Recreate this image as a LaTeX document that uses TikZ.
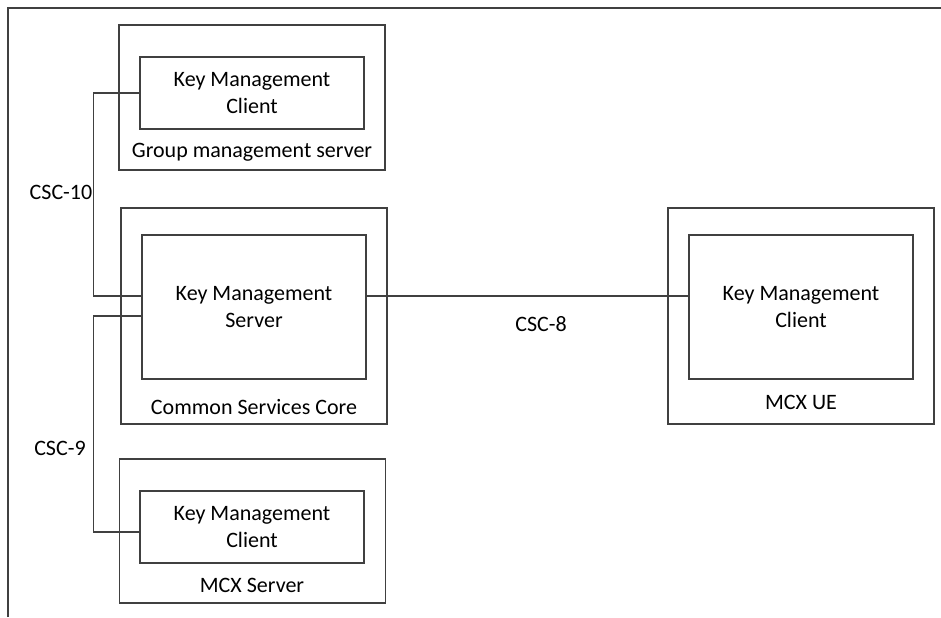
\documentclass[tikz,border=0pt]{standalone}
\usepackage{fontspec}
\setmainfont{Carlito}
\usetikzlibrary{positioning}

\begin{document}
\begin{tikzpicture}[x=0.5pt,y=-0.5pt,line width=0.65pt,draw=black!75,
  every node/.style={font=\fontsize{11}{13.4}\selectfont,text=black},
  outerbox/.style={draw=black!75,inner sep=0pt,minimum width=133pt},
  innerbox/.style={draw=black!75,align=center,inner sep=0pt,minimum width=112pt}]
\useasboundingbox (0,0) rectangle (941,617);
% the page frame
\draw (8,617) -- (8,8) -- (941,8);
% group management server
\node[outerbox,minimum height=72.5pt] (gms) at (252,97.5) {};
\node[innerbox,minimum height=36pt] (kmcg) at (252,93) {Key Management\\Client};
\node (gmslabel) at (252,152) {Group management server};
% common services core
\node[outerbox,minimum height=108pt] (csc) at (254,316) {};
\node[innerbox,minimum height=72pt] (kms) at (254,307) {Key Management\\Server};
\node (csclabel) at (254,407) {Common Services Core};
% mcx server
\node[outerbox,minimum height=72pt] (mcxs) at (252.5,531) {};
\node[innerbox,minimum height=36pt] (kmcs) at (252,527) {Key Management\\Client};
\node (mcxslabel) at (252,585) {MCX Server};
% mcx ue
\node[outerbox,minimum height=108pt] (ue) at (801,316) {};
\node[innerbox,minimum height=72pt] (kmcu) at (801,307) {Key Management\\Client};
\node (uelabel) at (801,402) {MCX UE};
% the reference points
\draw (kmcg.west) -- ++(-23pt,0) |- ([yshift=5.5pt]kms.west);
\draw ([yshift=-4.5pt]kms.west) -- ++(-24pt,0) |- ([yshift=-2.5pt]kmcs.west);
\draw ([yshift=5.5pt]kms.east) -- ([yshift=5.5pt]kmcu.west);
% the labels
\node (csc10) at (61,192) {CSC-10};
\node (csc9) at (60,448) {CSC-9};
\node (csc8) at (541,324) {CSC-8};
\end{tikzpicture}
\end{document}
